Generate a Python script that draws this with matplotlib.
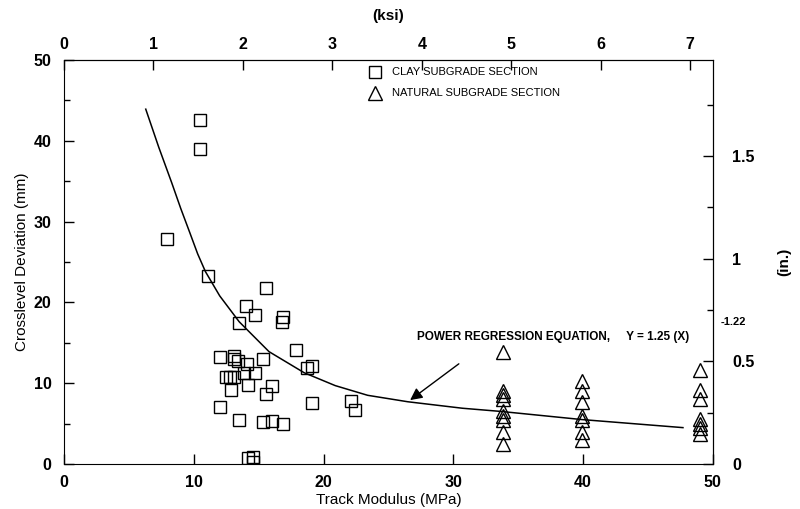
import numpy as np
import matplotlib.pyplot as plt

plt.rcParams['font.family'] = ['Liberation Sans', 'DejaVu Sans']

# Clay subgrade section (MPa, mm)
clay_x = [10.5, 10.5, 7.9, 11.1, 15.6, 14.0, 14.7, 16.9, 16.8, 13.5,
          17.9, 12.0, 13.1, 13.1, 13.4, 14.1, 15.3, 18.7, 19.1, 12.5,
          12.8, 13.1, 13.9, 14.7, 12.9, 14.2, 16.0, 15.6, 12.0, 19.1,
          22.1, 22.4, 13.5, 15.3, 16.0, 16.9, 14.2, 14.6, 14.6]
clay_y = [42.5, 39.0, 27.8, 23.2, 21.8, 19.5, 18.4, 18.2, 17.6, 17.4,
          14.1, 13.3, 13.4, 13.0, 12.8, 12.4, 13.0, 11.9, 12.1, 10.8,
          10.8, 10.8, 11.2, 11.2, 9.2, 9.8, 9.6, 8.6, 7.1, 7.5,
          7.8, 6.7, 5.4, 5.2, 5.3, 4.9, 0.7, 0.9, 0.2]

# Natural subgrade section (MPa, mm)
nat_x = [33.8] * 9 + [39.9] * 7 + [49.0] * 7
nat_y = [13.9, 9.0, 8.5, 8.0, 6.5, 6.0, 5.5, 4.0, 2.5,
         10.3, 9.0, 7.7, 6.0, 5.5, 4.0, 3.0,
         11.6, 9.1, 8.1, 5.6, 5.0, 4.4, 3.7]

# regression curve
fit_x = [6.3, 7.3, 8.3, 9.0, 9.7, 10.3, 10.9, 12.0, 13.5, 15.8, 18.5,
         20.9, 23.4, 26.5, 30.7, 33.7, 39.9, 47.7]
fit_y = [43.9, 39.2, 34.8, 31.6, 28.6, 26.0, 23.8, 20.8, 17.6, 13.9, 11.3,
         9.7, 8.5, 7.7, 6.9, 6.5, 5.5, 4.5]

fig = plt.figure(figsize=(8, 5.09), dpi=100)
ax = fig.add_axes([0.08, 0.0884, 0.811, 0.794])

ax.plot(fit_x, fit_y, color='black', lw=1.1)
ax.plot(clay_x, clay_y, 's', mfc='none', mec='black', ms=8, mew=1.0)
ax.plot(nat_x, nat_y, '^', mfc='none', mec='black', ms=10, mew=1.0)

ax.set_xlim(0, 50)
ax.set_ylim(0, 50)
ax.set_xticks(range(0, 51, 10))
ax.set_yticks(range(0, 51, 10))
ax.set_yticks(range(5, 50, 10), minor=True)
ax.tick_params(direction='in', length=7, width=1, labelsize=11.5)
ax.tick_params(axis='x', pad=8)
ax.tick_params(axis='y', pad=9)
ax.tick_params(which='minor', direction='in', length=4, width=1)
for lab in ax.get_xticklabels() + ax.get_yticklabels():
    lab.set_fontweight('bold')
ax.set_xlabel('Track Modulus (MPa)', fontsize=11, labelpad=2)
ax.set_ylabel('Crosslevel Deviation (mm)', fontsize=11, labelpad=3)

# top axis in ksi
top = ax.secondary_xaxis('top', functions=(lambda m: m / 6.895, lambda k: k * 6.895))
top.set_xticks(range(0, 8))
top.tick_params(direction='in', length=7, width=1, labelsize=11.5, pad=6)
for lab in top.get_xticklabels():
    lab.set_fontweight('bold')
top.set_xlabel('(ksi)', fontsize=11, fontweight='bold', labelpad=12)

# right axis in inches
right = ax.secondary_yaxis('right', functions=(lambda m: m / 25.4, lambda i: i * 25.4))
right.set_yticks([0, 0.5, 1, 1.5])
right.set_yticklabels(['0', '0.5', '1', '1.5'])
right.set_yticks([0.25, 0.75, 1.25, 1.75], minor=True)
right.tick_params(direction='in', length=7, width=1, labelsize=11.5, pad=14)
right.tick_params(which='minor', direction='in', length=4, width=1)
for lab in right.get_yticklabels():
    lab.set_fontweight('bold')
right.set_ylabel('(in.)', fontsize=11, fontweight='bold', labelpad=16)

# legend
ax.plot([24.0], [48.5], 's', mfc='none', mec='black', ms=8, mew=1.0)
ax.text(25.3, 48.5, 'CLAY SUBGRADE SECTION', fontsize=8, va='center')
ax.plot([24.0], [45.9], '^', mfc='none', mec='black', ms=10, mew=1.0)
ax.text(25.3, 45.9, 'NATURAL SUBGRADE SECTION', fontsize=8, va='center')

# equation and arrow
ax.text(27.2, 15.7, 'POWER REGRESSION EQUATION,     Y = 1.25 (X)', fontsize=8.5,
        fontweight='bold', va='center')
ax.text(51.6, 17.6, '-1.22', fontsize=8, fontweight='bold', va='center', ha='center')
ax.annotate('', xy=(26.5, 7.7), xytext=(30.6, 12.6),
            arrowprops=dict(arrowstyle='-|>', color='black', lw=1.0, mutation_scale=18))

fig.savefig('out.png')
